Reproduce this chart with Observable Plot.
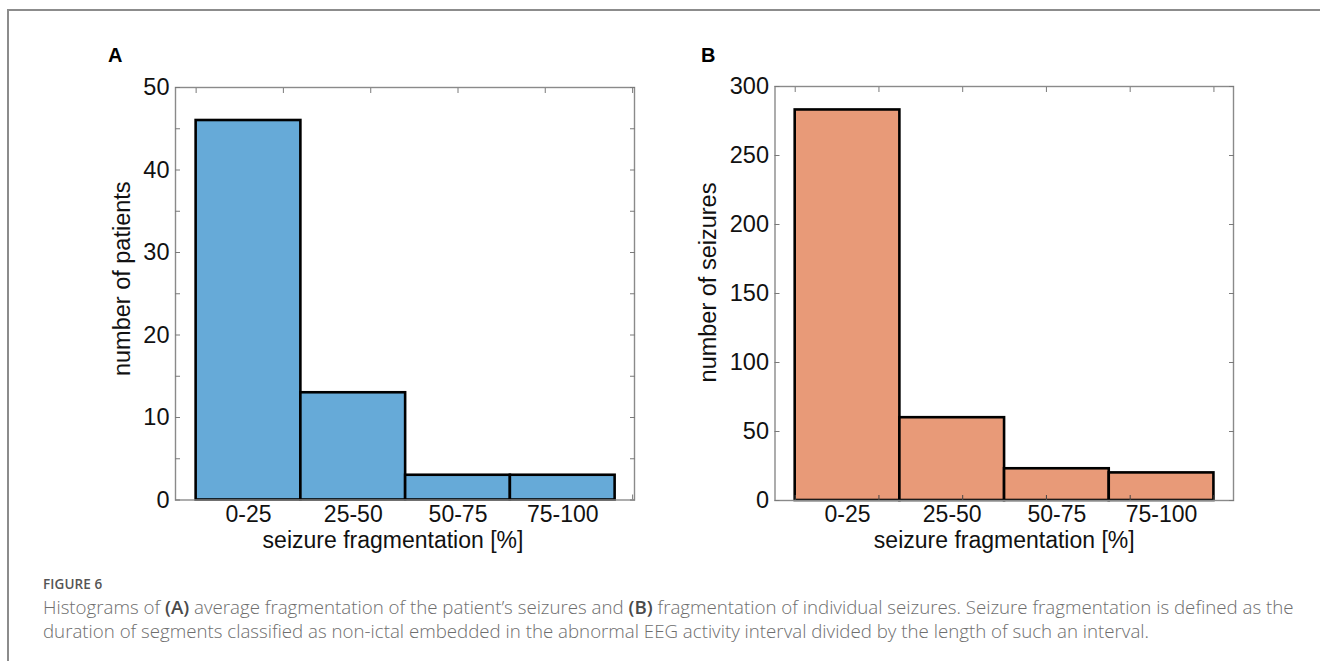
<!DOCTYPE html>
<html>
<head>
<meta charset="utf-8">
<script src="https://cdn.jsdelivr.net/npm/d3@7"></script>
<script src="https://cdn.jsdelivr.net/npm/@observablehq/plot@0.6"></script>
<style>
  body { margin: 0; background: #fff; }
  #page { position: relative; width: 1320px; height: 661px; overflow: hidden; background: #fff;
          font-family: "Liberation Sans", Arial, Helvetica, sans-serif; }
  #frame { position: absolute; left: 7px; top: 9px; width: 1400px; height: 800px;
           border-left: 2px solid #8c8c8c; border-top: 2px solid #8c8c8c; }
  .panel { position: absolute; top: 0; }
  .letter { position: absolute; font-weight: bold; font-size: 20px; color: #000; line-height: 1; }
  #figlabel { position: absolute; left: 43px; top: 575px; font-family: "Open Sans", sans-serif;
              font-weight: 600; font-size: 13.5px; color: #555; letter-spacing: 0.1px; }
  #caption { position: absolute; left: 43px; top: 595px; font-family: "Open Sans", sans-serif;
             font-size: 18.7px; line-height: 24px; color: #6e6e6e; white-space: nowrap; font-weight: 300; }
  #caption b { color: #4a4a4a; font-weight: 600; }
</style>
</head>
<body>
<div id="page">
  <div id="frame"></div>
  <div id="panelA" class="panel" style="left:0px"></div>
  <div id="panelB" class="panel" style="left:660px"></div>
  <div class="letter" style="left:108px;top:45px">A</div>
  <div class="letter" style="left:701px;top:45px">B</div>
  <div id="figlabel">FIGURE 6</div>
  <div id="caption">Histograms of <b>(A)</b> average fragmentation of the patient’s seizures and <b>(B)</b> fragmentation of individual seizures. Seizure fragmentation is defined as the<br>duration of segments classified as non-ictal embedded in the abnormal EEG activity interval divided by the length of such an interval.</div>
</div>
<script>
// ---- data ----
const categories = ["0-25", "25-50", "50-75", "75-100"];
const patientCounts = [46, 13, 3, 3];
const seizureCounts = [283, 60, 23, 20];
const xTicksA = [0, 0.833, 1.667, 2.5, 3.333, 4.167];
const xTicksB = [0, 0.8, 1.6, 2.4, 3.2, 4.0];
const yLabelsA = [0, 10, 20, 30, 40, 50];
const yMinorA = [0, 5, 10, 15, 20, 25, 30, 35, 40, 45, 50];
const yTicksB = [0, 50, 100, 150, 200, 250, 300];

const FONT = "Liberation Sans, Arial, Helvetica, sans-serif";

function panel({counts, fill, yDomain, xDomain, yLabels, yTicks, xTicks, yLabel, xLabelDx,
                marginLeft, marginRight, marginTop, marginBottom, ticksOverBars, yLabelOffset, yLabelDy}) {
  const data = counts.map((c, i) => ({i, cat: categories[i], count: c}));
  const tickGray = "#7a7a7a";
  const inward = -5;
  const bottomTicks = Plot.axisX(xTicks, {anchor: "bottom", tickSize: inward, tickFormat: () => "",
    label: null, stroke: ticksOverBars ? "#444" : tickGray, strokeWidth: 1});
  return Plot.plot({
    width: 660, height: 570,
    marginLeft, marginRight, marginTop, marginBottom,
    style: {fontFamily: FONT, fontSize: "23px", color: "#111", background: "transparent", overflow: "visible"},
    x: {domain: xDomain, axis: null},
    y: {domain: yDomain, axis: null},
    marks: [
      ...(ticksOverBars ? [] : [bottomTicks]),
      Plot.rect(data, {x1: "i", x2: d => d.i + 1, y1: 0, y2: "count", fill, stroke: "#000", strokeWidth: 2.6}),
      ...(ticksOverBars ? [bottomTicks] : []),
      Plot.frame({stroke: "#8a8a8a", strokeWidth: 1.4}),
      Plot.axisX(xTicks, {anchor: "top", tickSize: inward, tickFormat: () => "", label: null, stroke: tickGray}),
      Plot.axisY(yTicks, {anchor: "left", tickSize: inward, tickFormat: () => "", label: null, stroke: tickGray}),
      Plot.axisY(yTicks, {anchor: "right", tickSize: inward, tickFormat: () => "", label: null, stroke: tickGray}),
      Plot.axisY(yLabels, {anchor: "left", tickSize: 0, tickPadding: 6, label: null, fontSize: 23.5, fill: "#111"}),
      Plot.text(data, {x: d => d.i + 0.5, text: "cat", frameAnchor: "bottom", lineAnchor: "middle", dy: 14.5, fontSize: 23, fill: "#111"}),
      Plot.text([ "seizure fragmentation [%]" ], {frameAnchor: "bottom", lineAnchor: "middle", dy: 40.5, dx: xLabelDx, fontSize: 23, fill: "#111"}),
      Plot.text([ yLabel ], {frameAnchor: "left", textAnchor: "middle", lineAnchor: "middle", dx: -yLabelOffset, dy: yLabelDy, rotate: -90, fontSize: 23.5, fill: "#111"})
    ]
  });
}

document.getElementById("panelA").appendChild(panel({
  counts: patientCounts, fill: "#66aad8", yDomain: [0, 50], xDomain: [-0.197, 4.185],
  yLabels: yLabelsA, yTicks: yMinorA, xTicks: xTicksA, yLabel: "number of patients", xLabelDx: -12,
  marginLeft: 175, marginRight: 26, marginTop: 87, marginBottom: 70.5, ticksOverBars: false, yLabelOffset: 53, yLabelDy: -15
}));

document.getElementById("panelB").appendChild(panel({
  counts: seizureCounts, fill: "#e89a78", yDomain: [0, 300], xDomain: [-0.193, 4.187],
  yLabels: yTicksB, yTicks: yTicksB, xTicks: xTicksB, yLabel: "number of seizures", xLabelDx: 0,
  marginLeft: 114.5, marginRight: 87, marginTop: 86, marginBottom: 70, ticksOverBars: true, yLabelOffset: 67, yLabelDy: -11
}));
</script>
</body>
</html>
